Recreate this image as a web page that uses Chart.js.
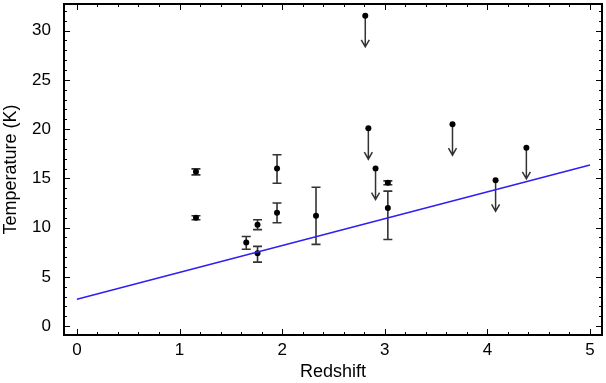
<!DOCTYPE html>
<html>
<head>
<meta charset="utf-8">
<script src="https://cdn.jsdelivr.net/npm/chart.js@4/dist/chart.umd.min.js"></script>
<style>
html,body{margin:0;padding:0;background:#fff;}
#wrap{width:606px;height:383px;position:relative;}
</style>
</head>
<body>
<div id="wrap"><canvas id="c"></canvas></div>
<script>
// Measured temperatures (with error bars)
const detZ  = [1.16, 1.16, 1.65, 1.76, 1.76, 1.95, 1.95, 2.33, 3.03, 3.03];
const detT  = [15.66, 11.0, 8.5, 10.3, 7.4, 16.0, 11.5, 11.2, 14.55, 12.0];
const detHi = [15.96, 11.2, 9.1, 10.8, 8.1, 17.4, 12.5, 14.1, 14.75, 13.7];
const detLo = [15.35, 10.8, 7.8, 9.8, 6.5, 14.5, 10.5, 8.3, 14.35, 8.8];
// Upper limits
const limZ = [2.81, 2.84, 2.91, 3.66, 4.08, 4.38];
const limT = [31.5, 20.1, 16.0, 20.5, 14.8, 18.1];
// CMB line end points
const lineZ = [0, 5];
const lineT = [2.72, 16.35];
// Ticks
const xTicks = [0, 1, 2, 3, 4, 5];
const yTicks = [0, 5, 10, 15, 20, 25, 30];
const xMinor = [-0.2,0,0.2,0.4,0.6,0.8,1,1.2,1.4,1.6,1.8,2,2.2,2.4,2.6,2.8,3,3.2,3.4,3.6,3.8,4,4.2,4.4,4.6,4.8,5];
const yMinor = [0,1,2,3,4,5,6,7,8,9,10,11,12,13,14,15,16,17,18,19,20,21,22,23,24,25,26,27,28,29,30,31,32];

const FONT = 'Liberation Sans, Arial, sans-serif';

const decor = {
  id: 'decor',
  beforeDatasetsDraw(chart) {
    const ctx = chart.ctx, xs = chart.scales.x, ys = chart.scales.y;
    ctx.save();
    ctx.strokeStyle = '#333';
    ctx.lineWidth = 1.6;
    for (let i = 0; i < detZ.length; i++) {
      const px = xs.getPixelForValue(detZ[i]);
      const pt = ys.getPixelForValue(detHi[i]);
      const pb = ys.getPixelForValue(detLo[i]);
      ctx.beginPath();
      ctx.moveTo(px, pt); ctx.lineTo(px, pb);
      ctx.moveTo(px - 4.5, pt); ctx.lineTo(px + 4.5, pt);
      ctx.moveTo(px - 4.5, pb); ctx.lineTo(px + 4.5, pb);
      ctx.stroke();
    }
    ctx.lineWidth = 1.5;
    for (let i = 0; i < limZ.length; i++) {
      const px = xs.getPixelForValue(limZ[i]);
      const py = ys.getPixelForValue(limT[i]);
      const tip = py + 31;
      ctx.beginPath();
      ctx.moveTo(px, py); ctx.lineTo(px, tip);
      ctx.moveTo(px - 4, tip - 7); ctx.lineTo(px, tip); ctx.lineTo(px + 4, tip - 7);
      ctx.stroke();
    }
    ctx.restore();
  },
  afterDraw(chart) {
    const ctx = chart.ctx, a = chart.chartArea, xs = chart.scales.x, ys = chart.scales.y;
    ctx.save();
    ctx.strokeStyle = '#000';
    ctx.lineWidth = 1;
    ctx.beginPath();
    xMinor.forEach(v => {
      if (v < xs.min || v > xs.max) return;
      const px = Math.round(xs.getPixelForValue(v)) + 0.5;
      const len = xTicks.includes(v) ? 6 : 3;
      ctx.moveTo(px, a.bottom); ctx.lineTo(px, a.bottom - len);
      ctx.moveTo(px, a.top); ctx.lineTo(px, a.top + len);
    });
    yMinor.forEach(v => {
      if (v < ys.min || v > ys.max) return;
      const py = Math.round(ys.getPixelForValue(v)) + 0.5;
      const len = yTicks.includes(v) ? 6 : 3;
      ctx.moveTo(a.left, py); ctx.lineTo(a.left + len, py);
      ctx.moveTo(a.right, py); ctx.lineTo(a.right - len, py);
    });
    ctx.stroke();
    ctx.lineWidth = 2;
    ctx.strokeRect(a.left, a.top, a.right - a.left, a.bottom - a.top);
    ctx.restore();
  }
};

new Chart(document.getElementById('c'), {
  type: 'scatter',
  data: {
    datasets: [
      {
        type: 'line',
        data: lineZ.map((z, i) => ({x: z, y: lineT[i]})),
        borderColor: '#2f1ff0',
        borderWidth: 1.5,
        pointRadius: 0,
        fill: false
      },
      {
        data: detZ.map((z, i) => ({x: z, y: detT[i]})),
        backgroundColor: '#000',
        borderColor: '#000',
        pointRadius: 3,
        borderWidth: 0
      },
      {
        data: limZ.map((z, i) => ({x: z, y: limT[i]})),
        backgroundColor: '#000',
        borderColor: '#000',
        pointRadius: 3,
        borderWidth: 0
      }
    ]
  },
  options: {
    responsive: true,
    maintainAspectRatio: false,
    animation: false,
    devicePixelRatio: 1,
    layout: {padding: {left: 0, top: 2, right: 3, bottom: 0}},
    plugins: {legend: {display: false}, tooltip: {enabled: false}},
    scales: {
      x: {
        type: 'linear',
        min: -0.126, max: 5.117,
        grid: {display: false, drawTicks: false},
        border: {display: false},
        afterBuildTicks: s => { s.ticks = xTicks.map(v => ({value: v})); },
        afterFit: s => { s.height = 48; s.paddingLeft = 0; s.paddingRight = 0; s.paddingTop = 0; s.paddingBottom = 0; },
        ticks: {color: '#000', padding: 5, maxRotation: 0, font: {family: FONT, size: 17}},
        title: {display: true, text: 'Redshift', color: '#000', padding: 0, font: {family: FONT, size: 18}}
      },
      y: {
        type: 'linear',
        min: -0.9, max: 32.7,
        grid: {display: false, drawTicks: false},
        border: {display: false},
        afterBuildTicks: s => { s.ticks = yTicks.map(v => ({value: v})); },
        afterFit: s => { s.width = 64; s.paddingLeft = 0; s.paddingRight = 0; s.paddingTop = 0; s.paddingBottom = 0; },
        ticks: {color: '#000', padding: 13, font: {family: FONT, size: 17}},
        title: {display: true, text: 'Temperature (K)', color: '#000', padding: 0, font: {family: FONT, size: 18}}
      }
    }
  },
  plugins: [decor]
});
</script>
</body>
</html>
